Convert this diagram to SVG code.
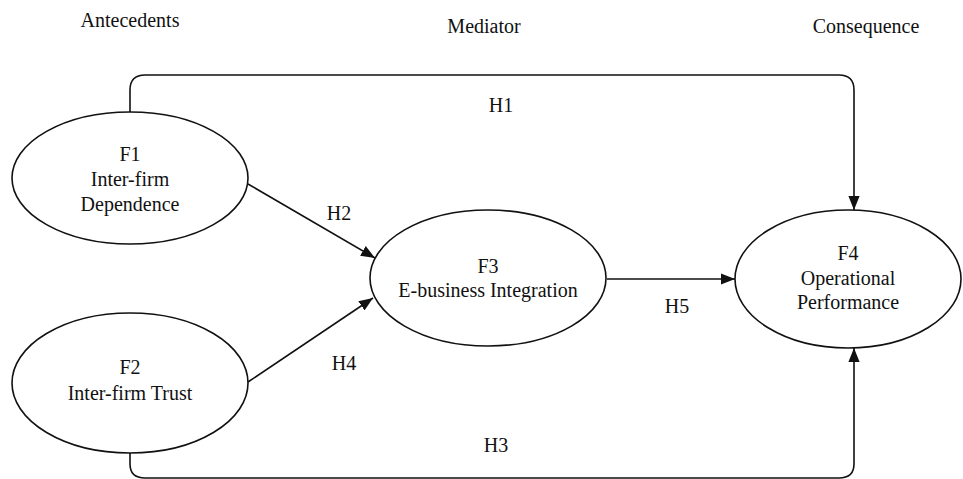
<svg xmlns="http://www.w3.org/2000/svg" width="963" height="479" viewBox="0 0 963 479">
<style>
text{font-family:"Liberation Serif","Times New Roman",serif;font-size:20px;fill:#111;text-anchor:middle}
.n{fill:#fff;stroke:#111;stroke-width:1.6}
.c{fill:none;stroke:#111;stroke-width:1.6}
</style>
<defs>
<marker id="a" viewBox="0 0 10 10" refX="10" refY="5" markerWidth="14" markerHeight="14" markerUnits="userSpaceOnUse" orient="auto"><path d="M0,1 L10,5 L0,9 z" fill="#111"/></marker>
</defs>
<rect width="963" height="479" fill="#fff"/>
<g id="headers">
<text x="130" y="27">Antecedents</text>
<text x="484" y="33">Mediator</text>
<text x="866" y="33">Consequence</text>
</g>
<g id="connectors">
<path class="c" d="M130,112 V90 Q130,75 145,75 H839 Q854,75 854,90 V210" marker-end="url(#a)"/>
<path class="c" d="M130,453 V464 Q130,478 145,478 H839 Q854,478 854,464 V348" marker-end="url(#a)"/>
<path class="c" d="M248,184 L375,258" marker-end="url(#a)"/>
<path class="c" d="M248,382 L373,298" marker-end="url(#a)"/>
<path class="c" d="M607,279 L735,279" marker-end="url(#a)"/>
<text x="501" y="112">H1</text>
<text x="339" y="220">H2</text>
<text x="496" y="452">H3</text>
<text x="344" y="370">H4</text>
<text x="677" y="313">H5</text>
</g>
<g id="F1">
<ellipse class="n" cx="130" cy="178" rx="118" ry="66"/>
<text x="130" y="161">F1</text>
<text x="130" y="186">Inter-firm</text>
<text x="130" y="211">Dependence</text>
</g>
<g id="F2">
<ellipse class="n" cx="130" cy="383" rx="118" ry="70"/>
<text x="130" y="374">F2</text>
<text x="130" y="400">Inter-firm Trust</text>
</g>
<g id="F3">
<ellipse class="n" cx="488" cy="278" rx="118" ry="68"/>
<text x="488" y="273">F3</text>
<text x="488" y="297">E-business Integration</text>
</g>
<g id="F4">
<ellipse class="n" cx="848" cy="279" rx="113" ry="69"/>
<text x="848" y="260">F4</text>
<text x="848" y="285">Operational</text>
<text x="848" y="309">Performance</text>
</g>
</svg>
